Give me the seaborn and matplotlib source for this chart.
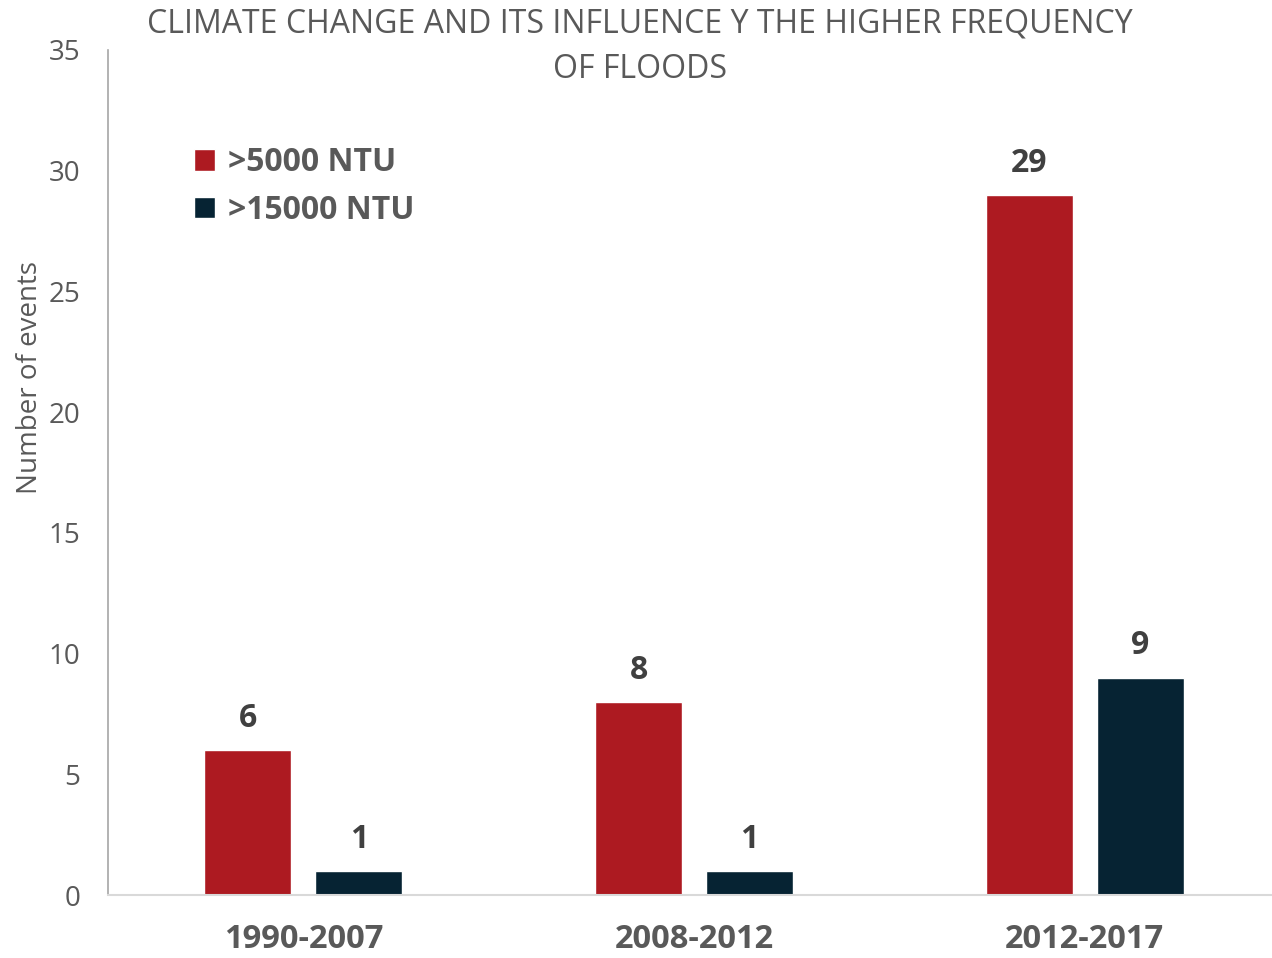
import matplotlib
matplotlib.use('Agg')
import matplotlib.pyplot as plt
import seaborn as sns
import pandas as pd

periods = ['1990-2007', '2008-2012', '2012-2017']
series_names = ['>5000 NTU', '>15000 NTU']
over_5000 = [6, 8, 29]
over_15000 = [1, 1, 9]
bar_colors = ['#AD1A21', '#062333']

df = pd.DataFrame({
    'period': periods * 2,
    'series': [series_names[0]] * 3 + [series_names[1]] * 3,
    'events': over_5000 + over_15000,
})

sns.set_theme(style='white')
plt.rcParams['font.family'] = ['Open Sans', 'DejaVu Sans']

fig = plt.figure(figsize=(12.72, 9.58), dpi=100)
ax = fig.add_axes([108 / 1272, 63 / 958, 1172 / 1272, 845 / 958])

sns.barplot(data=df, x='period', y='events', hue='series', palette=bar_colors,
            width=0.568, gap=0.217, saturation=1, ax=ax, order=periods,
            hue_order=series_names)

ax.set_xlim(-0.5, 2.5)
ax.set_ylim(0, 35)
ax.set_yticks(range(0, 36, 5))
ax.set_xlabel('')
ax.set_ylabel('')

for c in ax.containers:
    ax.bar_label(c, padding=11, fontsize=23, fontweight='bold', color='#404040')

ax.tick_params(axis='y', length=0, pad=20, labelsize=20, labelcolor='#595959')
ax.tick_params(axis='x', length=0, pad=20, labelsize=23.5, labelcolor='#595959')
for lbl in ax.get_xticklabels():
    lbl.set_fontweight('bold')

for s in ['top', 'right']:
    ax.spines[s].set_visible(False)
ax.spines['left'].set_color('#A6A6A6')
ax.spines['bottom'].set_color('#D9D9D9')
ax.spines['left'].set_linewidth(1.2)
ax.spines['bottom'].set_linewidth(1.5)

leg = ax.legend(loc='upper left', bbox_to_anchor=(0.049, 0.92), frameon=False,
                handlelength=0.65, handleheight=0.65, handletextpad=0.4,
                labelspacing=0.45, prop={'size': 23, 'weight': 'bold'})
for t in leg.get_texts():
    t.set_color('#595959')

fig.text(640 / 1272, 1 - 8 / 958,
         'CLIMATE CHANGE AND ITS INFLUENCE Y THE HIGHER FREQUENCY\nOF FLOODS',
         ha='center', va='top', fontsize=23, color='#595959', linespacing=1.5)
fig.text(30 / 1272, 1 - 378 / 958, 'Number of events', rotation=90,
         ha='center', va='center', fontsize=20, color='#595959')

fig.savefig('out.png', dpi=100)
